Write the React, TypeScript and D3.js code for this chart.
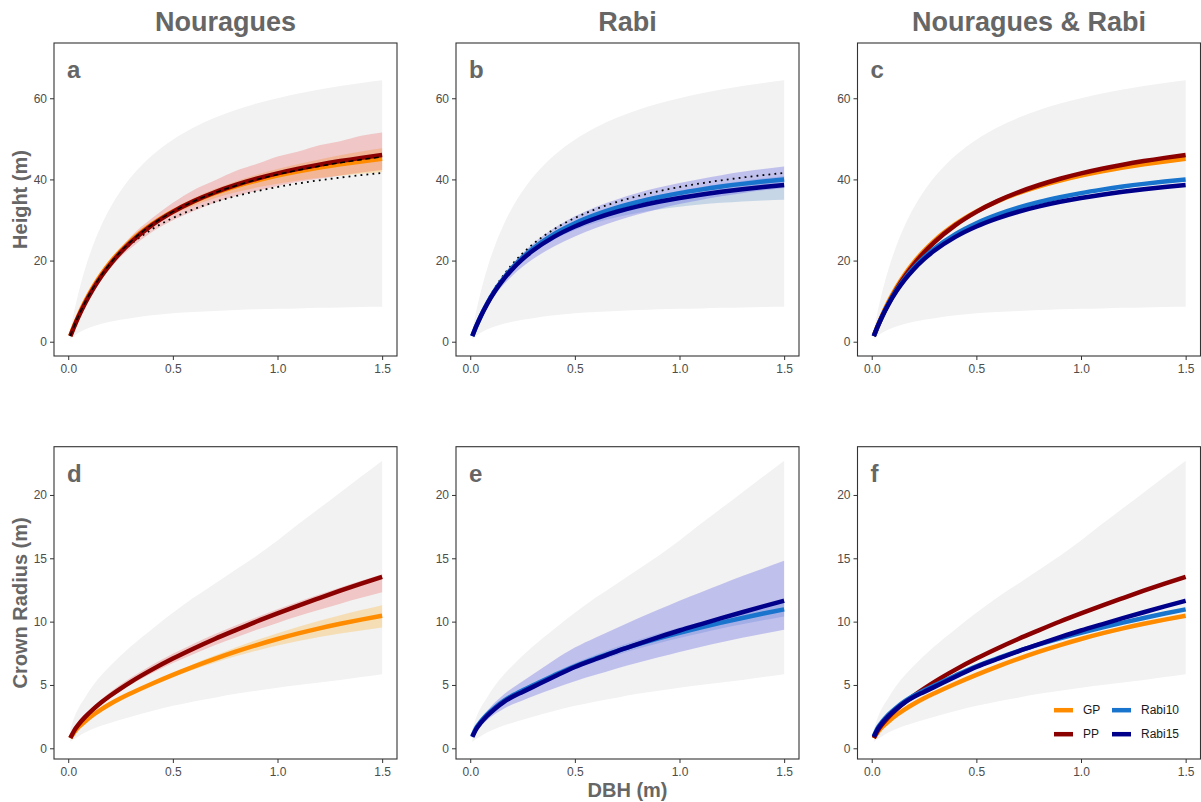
import { useEffect, useRef } from 'react'
import * as d3 from 'd3'

// DBH grid (m) shared by every curve
const dbh = [0.01, 0.03, 0.05, 0.08, 0.12, 0.16, 0.2, 0.25, 0.3, 0.4, 0.5, 0.6, 0.7, 0.8, 0.9, 1.0, 1.1, 1.2, 1.3, 1.4, 1.5]

// Height (m)
const heightEnvLo = [0.6, 1.5, 2.2, 3.0, 3.8, 4.4, 4.9, 5.4, 5.8, 6.5, 7.0, 7.3, 7.6, 7.8, 8.0, 8.1, 8.2, 8.35, 8.45, 8.55, 8.6]
const heightEnvHi = [2.82, 7.86, 12.26, 17.87, 23.97, 28.9, 32.97, 37.16, 40.59, 45.9, 49.8, 52.8, 55.17, 57.09, 58.68, 60.02, 61.16, 62.14, 63.0, 63.75, 64.42]
const heightGP = [1.45, 4.13, 6.57, 9.83, 13.56, 16.74, 19.48, 22.42, 24.93, 28.97, 32.1, 34.59, 36.62, 38.31, 39.73, 40.94, 41.99, 42.91, 43.72, 44.44, 45.08]
const heightGPLo = [1.45, 4.12, 6.55, 9.79, 13.48, 16.61, 19.29, 22.15, 24.56, 28.4, 31.31, 33.57, 35.36, 36.81, 37.98, 38.93, 39.73, 40.39, 40.93, 41.39, 41.78]
const heightGPHi = [1.45, 4.13, 6.58, 9.86, 13.63, 16.84, 19.64, 22.64, 25.23, 29.43, 32.74, 35.39, 37.61, 39.5, 41.12, 42.54, 43.8, 44.93, 45.95, 46.88, 47.7]
const heightPP = [1.37, 3.93, 6.27, 9.42, 13.09, 16.25, 19.0, 21.98, 24.54, 28.73, 32.01, 34.65, 36.81, 38.62, 40.16, 41.48, 42.63, 43.63, 44.52, 45.31, 46.02]
const heightPPLo = [1.36, 3.85, 6.08, 9.14, 12.57, 15.6, 18.05, 20.88, 23.07, 27.01, 29.93, 32.22, 34.23, 35.92, 37.15, 38.37, 39.43, 40.14, 40.96, 41.69, 42.34]
const heightPPHi = [1.38, 4.01, 6.46, 9.7, 13.61, 16.9, 19.95, 23.08, 26.01, 30.45, 34.25, 37.42, 39.75, 42.1, 43.77, 45.63, 46.89, 48.43, 49.42, 50.75, 51.54]
const heightNouragues = [1.41, 4.03, 6.42, 9.62, 13.32, 16.5, 19.24, 22.2, 24.73, 28.85, 32.05, 34.62, 36.71, 38.46, 39.94, 41.21, 42.31, 43.27, 44.12, 44.88, 45.55]
const heightAll = [1.48, 4.19, 6.62, 9.83, 13.44, 16.47, 19.05, 21.77, 24.07, 27.72, 30.49, 32.67, 34.43, 35.88, 37.09, 38.13, 39.01, 39.79, 40.46, 41.06, 41.6]
const heightR10 = [1.4, 3.98, 6.29, 9.35, 12.8, 15.7, 18.17, 20.79, 23.0, 26.53, 29.21, 31.32, 33.03, 34.44, 35.61, 36.62, 37.48, 38.24, 38.9, 39.48, 40.0]
const heightR10Lo = [1.32, 3.83, 6.07, 9.04, 12.35, 15.12, 17.46, 19.91, 21.96, 25.16, 27.51, 29.29, 30.67, 31.75, 32.59, 33.27, 33.8, 34.23, 34.56, 34.81, 35.0]
const heightR10Hi = [1.42, 4.02, 6.34, 9.41, 12.89, 15.81, 18.3, 20.95, 23.19, 26.77, 29.5, 31.67, 33.44, 34.9, 36.13, 37.19, 38.11, 38.92, 39.64, 40.27, 40.85]
const heightR15 = [1.39, 3.94, 6.22, 9.22, 12.6, 15.42, 17.82, 20.35, 22.47, 25.85, 28.41, 30.41, 32.03, 33.36, 34.48, 35.42, 36.23, 36.94, 37.56, 38.11, 38.6]
const heightR15Lo = [1.34, 3.69, 5.77, 8.52, 11.6, 14.12, 16.22, 18.45, 20.37, 23.45, 25.91, 28.01, 29.83, 31.36, 32.73, 33.92, 34.93, 35.84, 36.61, 37.31, 37.9]
const heightR15Hi = [1.44, 4.14, 6.57, 9.77, 13.4, 16.42, 19.02, 21.8, 24.17, 27.95, 30.91, 33.21, 35.08, 36.66, 37.98, 39.12, 40.13, 41.04, 41.86, 42.56, 43.2]

// Crown radius (m)
const crEnvLo = [0.5, 0.75, 0.95, 1.25, 1.55, 1.8, 2.0, 2.25, 2.5, 2.95, 3.35, 3.7, 4.0, 4.3, 4.55, 4.78, 5.0, 5.2, 5.4, 5.62, 5.84]
const crEnvHi = [1.5, 2.5, 3.2, 4.0, 5.0, 5.8, 6.5, 7.3, 8.05, 9.4, 10.7, 11.9, 13.0, 14.1, 15.2, 16.4, 17.7, 18.95, 20.2, 21.45, 22.7]
const crGP = [0.8, 1.3, 1.68, 2.12, 2.65, 3.1, 3.5, 3.95, 4.35, 5.1, 5.8, 6.45, 7.06, 7.63, 8.15, 8.63, 9.07, 9.47, 9.83, 10.16, 10.47]
const crGPLo = [0.8, 1.3, 1.67, 2.11, 2.63, 3.07, 3.46, 3.89, 4.27, 4.98, 5.63, 6.22, 6.76, 7.26, 7.71, 8.11, 8.47, 8.79, 9.06, 9.3, 9.53]
const crGPHi = [0.8, 1.3, 1.68, 2.13, 2.67, 3.13, 3.54, 4.0, 4.42, 5.21, 5.95, 6.66, 7.32, 7.95, 8.54, 9.09, 9.6, 10.07, 10.51, 10.91, 11.3]
const crPP = [0.81, 1.43, 1.89, 2.46, 3.09, 3.65, 4.15, 4.72, 5.25, 6.21, 7.08, 7.88, 8.63, 9.33, 10.01, 10.65, 11.27, 11.86, 12.44, 13.0, 13.54]
const crPPLo = [0.79, 1.39, 1.83, 2.38, 2.98, 3.52, 3.99, 4.53, 5.03, 5.92, 6.73, 7.45, 8.13, 8.75, 9.35, 9.9, 10.44, 10.93, 11.42, 11.88, 12.32]
const crPPHi = [0.85, 1.5, 1.98, 2.6, 3.28, 3.88, 4.42, 5.03, 5.58, 6.58, 7.46, 8.26, 9.0, 9.69, 10.35, 10.97, 11.57, 12.14, 12.7, 13.23, 13.75]
const crR10 = [0.95, 1.65, 2.1, 2.66, 3.25, 3.74, 4.15, 4.58, 4.97, 5.75, 6.48, 7.1, 7.67, 8.2, 8.68, 9.12, 9.53, 9.92, 10.29, 10.64, 10.97]
const crR10Lo = [0.92, 1.6, 2.03, 2.57, 3.14, 3.61, 4.0, 4.41, 4.78, 5.52, 6.22, 6.81, 7.35, 7.85, 8.3, 8.71, 9.09, 9.45, 9.79, 10.11, 10.41]
const crR10Hi = [0.98, 1.7, 2.17, 2.75, 3.36, 3.87, 4.3, 4.75, 5.16, 5.98, 6.74, 7.39, 7.99, 8.55, 9.06, 9.53, 9.97, 10.39, 10.79, 11.17, 11.53]
const crR15 = [0.9, 1.55, 2.0, 2.55, 3.15, 3.65, 4.05, 4.45, 4.85, 5.65, 6.42, 7.05, 7.66, 8.22, 8.77, 9.3, 9.79, 10.27, 10.74, 11.2, 11.65]
const crR15Lo = [0.8, 1.38, 1.76, 2.22, 2.72, 3.12, 3.45, 3.78, 4.1, 4.72, 5.3, 5.8, 6.3, 6.75, 7.18, 7.6, 8.0, 8.38, 8.73, 9.05, 9.35]
const crR15Hi = [1.0, 1.75, 2.3, 2.95, 3.65, 4.25, 4.75, 5.3, 5.85, 6.95, 7.95, 8.75, 9.5, 10.25, 10.95, 11.65, 12.3, 12.95, 13.6, 14.2, 14.8]

const siteTitles = ['Nouragues', 'Rabi', 'Nouragues & Rabi']
const panelLetters = ['a', 'b', 'c', 'd', 'e', 'f']
const xTicks = [0, 0.5, 1.0, 1.5]
const heightTicks = [0, 20, 40, 60]
const crTicks = [0, 5, 10, 15, 20]
const legendKeys = ['GP', 'PP', 'Rabi10', 'Rabi15']

const COL = { GP: '#ff8c00', PP: '#8b0000', Rabi10: '#1874cd', Rabi15: '#00008b' }
const RIB = {
  GP: { fill: '#ffa500', op: 0.25 },
  PP: { fill: '#e62828', op: 0.22 },
  Rabi10: { fill: '#4682c8', op: 0.25 },
  Rabi15: { fill: '#6464e6', op: 0.35 },
}
const FONT = '"Liberation Sans", Arial, Helvetica, sans-serif'
const W = 1201
const H = 802

function App() {
  const ref = useRef<SVGSVGElement | null>(null)

  useEffect(() => {
    document.body.style.margin = '0'
    document.body.style.overflow = 'hidden'
    const svg = d3.select(ref.current)
    svg.selectAll('*').remove()

    const panelW = 343
    const lefts = [54, 456, 857.5]
    const rows = [
      { top: 43, bottom: 356, domain: [-3.52, 73.62], ticks: heightTicks, env: [heightEnvLo, heightEnvHi] },
      { top: 446.7, bottom: 759, domain: [-0.845, 23.81], ticks: crTicks, env: [crEnvLo, crEnvHi] },
    ]

    const ribbonsFor = [
      [{ k: 'GP', lo: heightGPLo, hi: heightGPHi }, { k: 'PP', lo: heightPPLo, hi: heightPPHi }],
      [{ k: 'Rabi10', lo: heightR10Lo, hi: heightR10Hi }, { k: 'Rabi15', lo: heightR15Lo, hi: heightR15Hi }],
      [],
      [{ k: 'GP', lo: crGPLo, hi: crGPHi }, { k: 'PP', lo: crPPLo, hi: crPPHi }],
      [{ k: 'Rabi10', lo: crR10Lo, hi: crR10Hi }, { k: 'Rabi15', lo: crR15Lo, hi: crR15Hi }],
      [],
    ]
    const linesFor = [
      [{ k: 'GP', v: heightGP }, { k: 'PP', v: heightPP }],
      [{ k: 'Rabi10', v: heightR10 }, { k: 'Rabi15', v: heightR15 }],
      [{ k: 'GP', v: heightGP }, { k: 'PP', v: heightPP }, { k: 'Rabi10', v: heightR10 }, { k: 'Rabi15', v: heightR15 }],
      [{ k: 'GP', v: crGP }, { k: 'PP', v: crPP }],
      [{ k: 'Rabi10', v: crR10 }, { k: 'Rabi15', v: crR15 }],
      [{ k: 'GP', v: crGP }, { k: 'PP', v: crPP }, { k: 'Rabi10', v: crR10 }, { k: 'Rabi15', v: crR15 }],
    ]

    rows.forEach((row, r) => {
      lefts.forEach((left, c) => {
        const idx = r * 3 + c
        const x = d3.scaleLinear().domain([-0.068, 1.571]).range([left, left + panelW])
        const y = d3.scaleLinear().domain(row.domain).range([row.bottom, row.top])
        const g = svg.append('g')

        const area = (lo: number[], hi: number[]) =>
          d3.area<number>()
            .x((d) => x(d))
            .y0((_, i) => y(lo[i]))
            .y1((_, i) => y(hi[i]))
            .curve(d3.curveMonotoneX)(dbh)
        const line = (v: number[]) =>
          d3.line<number>()
            .x((d) => x(d))
            .y((_, i) => y(v[i]))
            .curve(d3.curveMonotoneX)(dbh)

        // prior envelope
        g.append('path').attr('d', area(row.env[0], row.env[1])).attr('fill', '#f2f2f2')

        ribbonsFor[idx].forEach((rb) => {
          const s = RIB[rb.k as keyof typeof RIB]
          g.append('path').attr('d', area(rb.lo, rb.hi)).attr('fill', s.fill).attr('fill-opacity', s.op)
        })

        if (idx === 0 || idx === 1) {
          g.append('path').attr('d', line(heightAll)).attr('fill', 'none')
            .attr('stroke', '#000').attr('stroke-width', 1.8).attr('stroke-dasharray', '1.8,4.2')
        }

        linesFor[idx].forEach((ln) => {
          g.append('path').attr('d', line(ln.v)).attr('fill', 'none')
            .attr('stroke', COL[ln.k as keyof typeof COL]).attr('stroke-width', 4.5)
        })

        if (idx === 0) {
          g.append('path').attr('d', line(heightNouragues)).attr('fill', 'none')
            .attr('stroke', '#000').attr('stroke-width', 1.6).attr('stroke-dasharray', '5,3.5')
        }

        // axes
        const ax = g.append('g').attr('transform', `translate(0,${row.bottom})`)
          .call(d3.axisBottom(x).tickValues(xTicks).tickSize(4).tickPadding(4).tickFormat(d3.format('.1f')))
        const ay = g.append('g').attr('transform', `translate(${left},0)`)
          .call(d3.axisLeft(y).tickValues(row.ticks).tickSize(4).tickPadding(3).tickFormat(d3.format('d')))
        ;[ax, ay].forEach((a) => {
          a.select('.domain').remove()
          a.selectAll('line').attr('stroke', '#333').attr('stroke-width', 1)
          a.selectAll('text').attr('fill', '#4d4d4d').attr('font-size', 12).attr('font-family', FONT)
        })

        // panel border
        g.append('rect').attr('x', left).attr('y', row.top)
          .attr('width', panelW).attr('height', row.bottom - row.top)
          .attr('fill', 'none').attr('stroke', '#333').attr('stroke-width', 1.1)

        g.append('text').attr('x', left + 13).attr('y', row.top + 35)
          .attr('font-family', FONT).attr('font-weight', 'bold').attr('font-size', 24)
          .attr('fill', '#666').text(panelLetters[idx])

        if (idx === 5) {
          const lg = g.append('g')
          legendKeys.forEach((k, i) => {
            const col = Math.floor(i / 2)
            const rr = i % 2
            const lx = left + 196.5 + col * 58
            const ly = row.top + 263.5 + rr * 24
            lg.append('line').attr('x1', lx).attr('x2', lx + 19).attr('y1', ly).attr('y2', ly)
              .attr('stroke', COL[k as keyof typeof COL]).attr('stroke-width', 4.5)
            lg.append('text').attr('x', lx + 29).attr('y', ly).attr('dy', '0.35em')
              .attr('font-family', FONT).attr('font-size', 12).attr('fill', '#1a1a1a').text(k)
          })
        }

        if (r === 0) {
          svg.append('text').attr('x', left + panelW / 2).attr('y', 31).attr('text-anchor', 'middle')
            .attr('font-family', FONT).attr('font-weight', 'bold').attr('font-size', 27)
            .attr('fill', '#666').text(siteTitles[c])
        }
      })
    })

    const yTitles = [
      { text: 'Height (m)', cy: (43 + 356) / 2 },
      { text: 'Crown Radius (m)', cy: (446.7 + 759) / 2 },
    ]
    yTitles.forEach((t) => {
      svg.append('text').attr('transform', `translate(27,${t.cy}) rotate(-90)`)
        .attr('text-anchor', 'middle').attr('font-family', FONT).attr('font-weight', 'bold')
        .attr('font-size', 20).attr('fill', '#666').text(t.text)
    })
    svg.append('text').attr('x', 456 + panelW / 2).attr('y', 797).attr('text-anchor', 'middle')
      .attr('font-family', FONT).attr('font-weight', 'bold').attr('font-size', 20)
      .attr('fill', '#666').text('DBH (m)')
  }, [])

  return <svg ref={ref} width={W} height={H} style={{ display: 'block', background: '#fff' }} />
}

export default App
